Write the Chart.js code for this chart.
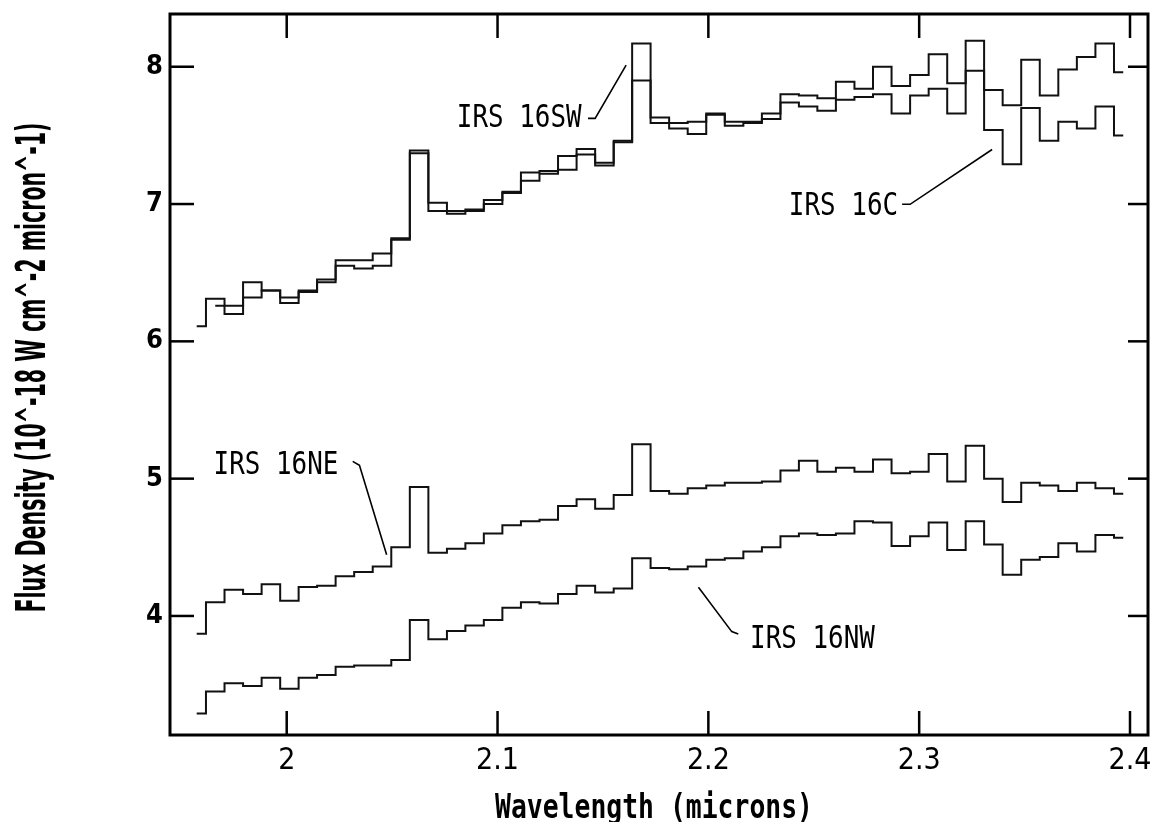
<!DOCTYPE html>
<html>
<head>
<meta charset="utf-8">
<title>Flux density spectra of IRS 16 sources</title>
<script src="https://cdn.jsdelivr.net/npm/chart.js@4.4.1/dist/chart.umd.min.js"></script>
<style>
  html, body { margin: 0; padding: 0; background: #ffffff; }
  canvas { display: block; }
</style>
</head>
<body>
<canvas id="c" width="1150" height="822"></canvas>
<script>
// ---- data ----
const wavelengths = [
  1.9573, 1.9661, 1.9749, 1.9837, 1.9925, 2.0013, 2.0100, 2.0188, 2.0276, 2.0364,
  2.0452, 2.0540, 2.0628, 2.0716, 2.0804, 2.0891, 2.0979, 2.1067, 2.1155, 2.1243,
  2.1331, 2.1419, 2.1507, 2.1595, 2.1682, 2.1770, 2.1858, 2.1946, 2.2034, 2.2122,
  2.2210, 2.2298, 2.2386, 2.2473, 2.2561, 2.2649, 2.2737, 2.2825, 2.2913, 2.3001,
  2.3089, 2.3177, 2.3264, 2.3352, 2.3440, 2.3528, 2.3616, 2.3704, 2.3792, 2.3880,
  2.3968
];
const irs16SW = [
  6.11, 6.31, 6.26, 6.43, 6.37, 6.32, 6.37, 6.45, 6.59, 6.59,
  6.64, 6.75, 7.39, 7.01, 6.95, 6.96, 7.03, 7.09, 7.23, 7.24,
  7.35, 7.40, 7.30, 7.46, 8.17, 7.63, 7.59, 7.60, 7.66, 7.60,
  7.60, 7.66, 7.80, 7.79, 7.77, 7.89, 7.84, 8.00, 7.86, 7.94,
  8.09, 7.88, 8.19, 7.83, 7.72, 8.05, 7.79, 7.98, 8.07, 8.17,
  7.96
];
const irs16C = [
  null, 6.26, 6.20, 6.32, 6.37, 6.28, 6.36, 6.43, 6.55, 6.53,
  6.55, 6.74, 7.37, 6.95, 6.93, 6.95, 7.00, 7.08, 7.17, 7.22,
  7.25, 7.36, 7.28, 7.45, 7.90, 7.59, 7.55, 7.51, 7.65, 7.57,
  7.59, 7.62, 7.74, 7.71, 7.68, 7.76, 7.78, 7.80, 7.66, 7.79,
  7.84, 7.66, 7.97, 7.54, 7.29, 7.70, 7.46, 7.60, 7.55, 7.71,
  7.50
];
const irs16NE = [
  3.87, 4.10, 4.19, 4.16, 4.23, 4.11, 4.21, 4.22, 4.29, 4.32,
  4.36, 4.50, 4.94, 4.46, 4.49, 4.53, 4.60, 4.66, 4.69, 4.70,
  4.80, 4.85, 4.78, 4.88, 5.25, 4.91, 4.89, 4.93, 4.95, 4.97,
  4.97, 4.98, 5.06, 5.13, 5.05, 5.08, 5.05, 5.14, 5.04, 5.05,
  5.18, 4.98, 5.24, 5.00, 4.83, 4.97, 4.95, 4.91, 4.97, 4.93,
  4.89
];
const irs16NW = [
  3.29, 3.45, 3.51, 3.49, 3.55, 3.47, 3.55, 3.57, 3.63, 3.64,
  3.64, 3.68, 3.97, 3.83, 3.89, 3.93, 3.97, 4.06, 4.10, 4.09,
  4.16, 4.22, 4.17, 4.20, 4.42, 4.35, 4.34, 4.36, 4.41, 4.42,
  4.47, 4.50, 4.58, 4.60, 4.59, 4.60, 4.69, 4.68, 4.51, 4.58,
  4.68, 4.48, 4.69, 4.52, 4.30, 4.41, 4.43, 4.53, 4.47, 4.59,
  4.57
];
const seriesNames = ['IRS 16SW', 'IRS 16C', 'IRS 16NE', 'IRS 16NW'];
const xTickValues = [2.0, 2.1, 2.2, 2.3, 2.4];
const xTickLabels = ['2', '2.1', '2.2', '2.3', '2.4'];
const yTickValues = [4, 5, 6, 7, 8];
const yTickLabels = ['4', '5', '6', '7', '8'];
const xTitle = 'Wavelength (microns)';
const yTitle = 'Flux Density (10^-18 W cm^-2 micron^-1)';

// ---- helpers ----
function toPoints(vals) {
  return wavelengths.map((w, i) => ({ x: w, y: vals[i] }));
}
function lineDataset(label, vals) {
  return {
    label: label,
    data: toPoints(vals),
    stepped: 'middle',
    borderColor: '#111111',
    borderWidth: 2,
    pointRadius: 0,
    fill: false,
    spanGaps: false
  };
}
function noPad(s) {
  s.paddingLeft = 0; s.paddingRight = 0; s.paddingTop = 0; s.paddingBottom = 0;
}

// annotation labels with leader lines, placed in data coordinates
const annotations = [
  { text: seriesNames[0], x: 2.1399, y: 7.559, align: 'right',
    leader: [[2.1429, 7.624], [2.1463, 7.624], [2.1610, 8.012]] },
  { text: seriesNames[1], x: 2.2900, y: 6.918, align: 'right',
    leader: [[2.2919, 6.998], [2.2957, 6.998], [2.3346, 7.397]] },
  { text: seriesNames[2], x: 2.0245, y: 5.036, align: 'right',
    leader: [[2.0313, 5.126], [2.0345, 5.097], [2.0474, 4.445]] },
  { text: seriesNames[3], x: 2.2198, y: 3.765, align: 'left',
    leader: [[2.1953, 4.209], [2.2111, 3.886], [2.2142, 3.869]] }
];

const framePlugin = {
  id: 'framePlugin',
  afterDraw(chart) {
    const ctx = chart.ctx;
    const a = chart.chartArea;
    const xs = chart.scales.x, ys = chart.scales.y;
    ctx.save();
    ctx.strokeStyle = '#000';
    ctx.fillStyle = '#000';
    ctx.lineCap = 'butt';
    // frame
    ctx.lineWidth = 3;
    ctx.strokeRect(a.left, a.top, a.right - a.left, a.bottom - a.top);
    // inward ticks
    ctx.lineWidth = 2.5;
    const seg = (x1, y1, x2, y2) => { ctx.beginPath(); ctx.moveTo(x1, y1); ctx.lineTo(x2, y2); ctx.stroke(); };
    xTickValues.forEach(v => {
      const px = xs.getPixelForValue(v);
      seg(px, a.bottom, px, a.bottom - 24);
      seg(px, a.top, px, a.top + 24);
    });
    yTickValues.forEach(v => {
      const py = ys.getPixelForValue(v);
      seg(a.left, py, a.left + 24, py);
      seg(a.right, py, a.right - 20, py);
    });

    // annotations
    ctx.font = '32px "DejaVu Sans Mono"';
    const sx = 0.81;
    ctx.lineWidth = 1.6;
    annotations.forEach(an => {
      const px = xs.getPixelForValue(an.x), py = ys.getPixelForValue(an.y);
      const w = ctx.measureText(an.text).width * sx;
      const left = an.align === 'right' ? px - w : px;
      ctx.save();
      ctx.translate(left, py);
      ctx.scale(sx, 1);
      ctx.textAlign = 'left';
      ctx.textBaseline = 'alphabetic';
      ctx.fillText(an.text, 0, 0);
      ctx.restore();
      ctx.beginPath();
      an.leader.forEach((p, i) => {
        const lx = xs.getPixelForValue(p[0]), ly = ys.getPixelForValue(p[1]);
        if (i === 0) ctx.moveTo(lx, ly); else ctx.lineTo(lx, ly);
      });
      ctx.stroke();
    });

    // x title
    ctx.font = 'bold 34px "DejaVu Sans Mono"';
    let tw = ctx.measureText(xTitle).width;
    ctx.save();
    ctx.translate((a.left + a.right) / 2 - 5, 818);
    ctx.scale(318 / tw, 1);
    ctx.textAlign = 'center';
    ctx.textBaseline = 'alphabetic';
    ctx.fillText(xTitle, 0, 0);
    ctx.restore();

    // y title (rotated)
    ctx.font = 'bold 41px "DejaVu Sans Condensed", "DejaVu Sans"';
    tw = ctx.measureText(yTitle).width;
    ctx.save();
    ctx.translate(45, (a.top + a.bottom) / 2 - 7);
    ctx.rotate(-Math.PI / 2);
    ctx.scale(490 / tw, 1);
    ctx.textAlign = 'center';
    ctx.textBaseline = 'alphabetic';
    ctx.fillText(yTitle, 0, 0);
    ctx.restore();

    ctx.restore();
  }
};

new Chart(document.getElementById('c'), {
  type: 'line',
  data: {
    datasets: [
      lineDataset(seriesNames[0], irs16SW),
      lineDataset(seriesNames[1], irs16C),
      lineDataset(seriesNames[2], irs16NE),
      lineDataset(seriesNames[3], irs16NW)
    ]
  },
  options: {
    responsive: false,
    animation: false,
    devicePixelRatio: 1,
    layout: { padding: { top: 14, right: 2, left: 0, bottom: 0 } },
    plugins: { legend: { display: false }, tooltip: { enabled: false } },
    scales: {
      x: {
        type: 'linear',
        min: 1.94464,
        max: 2.40854,
        afterBuildTicks: s => { s.ticks = xTickValues.map(v => ({ value: v })); },
        afterFit: s => { s.height = 87; noPad(s); },
        grid: { display: false, drawTicks: false },
        border: { display: false },
        ticks: {
          padding: 8,
          color: '#000',
          maxRotation: 0,
          autoSkip: false,
          font: { family: '"DejaVu Sans Condensed", "DejaVu Sans"', size: 30 },
          callback: (v, i) => xTickLabels[i]
        }
      },
      y: {
        type: 'linear',
        min: 3.133,
        max: 8.384,
        afterBuildTicks: s => { s.ticks = yTickValues.map(v => ({ value: v })); },
        afterFit: s => { s.width = 170; noPad(s); },
        grid: { display: false, drawTicks: false },
        border: { display: false },
        ticks: {
          padding: 7,
          color: '#000',
          autoSkip: false,
          font: { family: '"DejaVu Sans Condensed", "DejaVu Sans"', size: 27, weight: 'bold' },
          callback: (v, i) => yTickLabels[i]
        }
      }
    }
  },
  plugins: [framePlugin]
});
</script>
</body>
</html>
